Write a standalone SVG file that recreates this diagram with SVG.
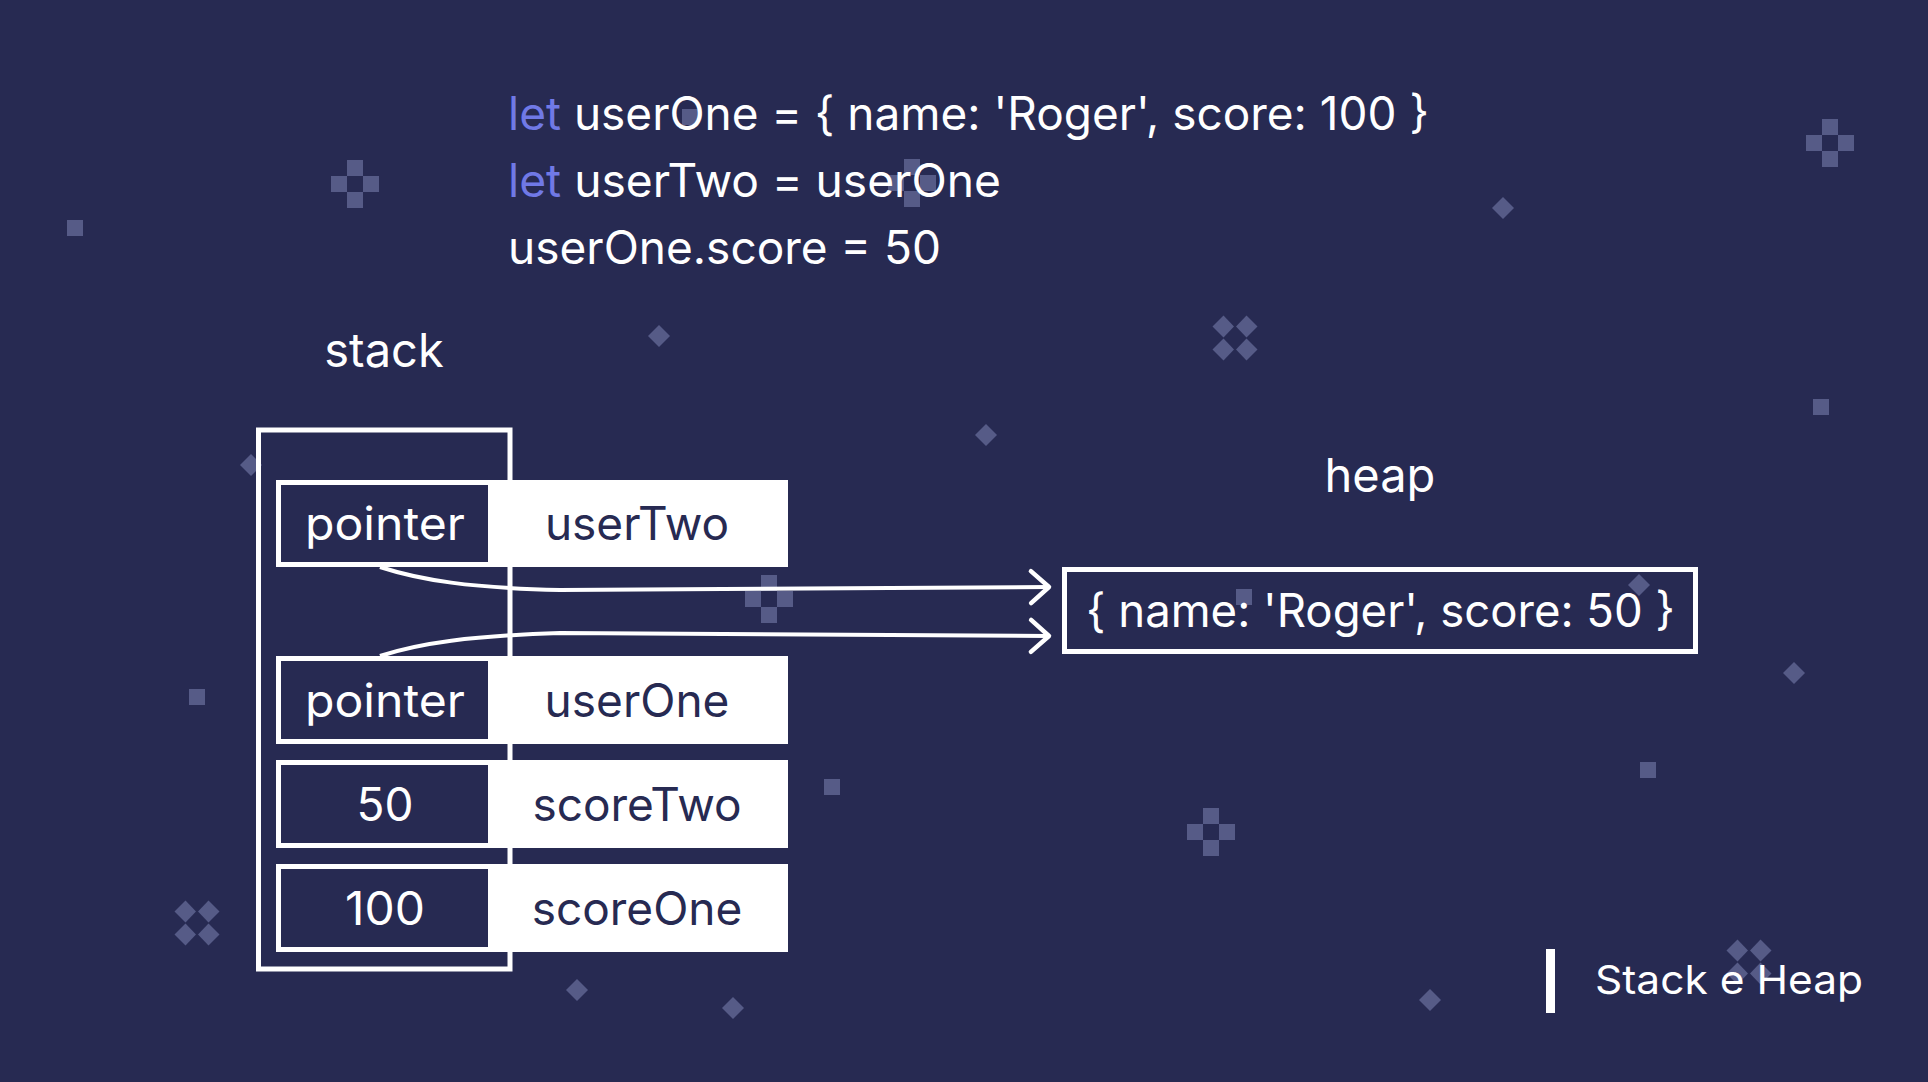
<svg xmlns="http://www.w3.org/2000/svg" xmlns:xlink="http://www.w3.org/1999/xlink" width="1928" height="1082" viewBox="0 0 1928 1082">
<style>
  .t { font-family: Inter, "Liberation Sans", sans-serif; fill: #ffffff; }
  .code { font-size: 46px; }
  .kw { fill: #7079e6; }
  .cell { font-size: 46px; text-anchor: middle; }
  .cellLight { fill: #272a52; }
  .lbl { font-size: 47px; text-anchor: middle; }
  .deco { fill: #565b87; }
  .box { fill: none; stroke: #ffffff; stroke-width: 5; }
  .conn { fill: none; stroke: #ffffff; stroke-width: 4; }
</style>
<defs>
  <g id="sq"><rect x="-8" y="-8" width="16" height="16"/></g>
  <g id="plus"><rect x="-8" y="-24" width="16" height="16"/><rect x="-24" y="-8" width="16" height="16"/><rect x="8" y="-8" width="16" height="16"/><rect x="-8" y="8" width="16" height="16"/></g>
  <g id="dia"><polygon points="0,-11 11,0 0,11 -11,0"/></g>
  <g id="quad"><polygon points="-11.5,-22.5 -1,-11.5 -11.5,-0.5 -22.5,-11.5"/><polygon points="11.5,-22.5 22.5,-11.5 11.5,-0.5 1,-11.5"/><polygon points="-11.5,0.5 -1,11.5 -11.5,22.5 -22.5,11.5"/><polygon points="11.5,0.5 22.5,11.5 11.5,22.5 1,11.5"/></g>
  <marker id="chev" markerUnits="userSpaceOnUse" markerWidth="30" markerHeight="40" viewBox="-24 -20 30 40" refX="0" refY="0" orient="auto">
    <path d="M -18 -16 L 0 0 L -18 16" fill="none" stroke="#ffffff" stroke-width="4.5" stroke-linecap="round" stroke-linejoin="round"/>
  </marker>
</defs>
<rect x="0" y="0" width="1928" height="1082" fill="#272a52"/>
<g id="decorations" class="deco">
  <use xlink:href="#plus" x="355" y="184"/>
  <use xlink:href="#plus" x="912" y="183"/>
  <use xlink:href="#plus" x="1830" y="143"/>
  <use xlink:href="#plus" x="769" y="599"/>
  <use xlink:href="#plus" x="1211" y="832"/>
  <use xlink:href="#sq" x="75" y="228"/>
  <use xlink:href="#sq" x="690" y="117"/>
  <use xlink:href="#sq" x="1821" y="407"/>
  <use xlink:href="#sq" x="1244" y="597"/>
  <use xlink:href="#sq" x="197" y="697"/>
  <use xlink:href="#sq" x="832" y="787"/>
  <use xlink:href="#sq" x="1648" y="770"/>
  <use xlink:href="#dia" x="1503" y="208"/>
  <use xlink:href="#dia" x="659" y="336"/>
  <use xlink:href="#dia" x="986" y="435"/>
  <use xlink:href="#dia" x="251" y="465"/>
  <use xlink:href="#dia" x="1639" y="585"/>
  <use xlink:href="#dia" x="1794" y="673"/>
  <use xlink:href="#dia" x="577" y="990"/>
  <use xlink:href="#dia" x="733" y="1008"/>
  <use xlink:href="#dia" x="1430" y="1000"/>
  <use xlink:href="#quad" x="1235" y="338"/>
  <use xlink:href="#quad" x="197" y="923"/>
  <use xlink:href="#quad" x="1749" y="962"/>
</g>
<g id="code" class="t code">
  <text x="508" y="130" textLength="921" lengthAdjust="spacingAndGlyphs"><tspan class="kw">let</tspan> userOne = { name: 'Roger', score: 100 }</text>
  <text x="508" y="197" textLength="493" lengthAdjust="spacingAndGlyphs"><tspan class="kw">let</tspan> userTwo = userOne</text>
  <text x="508" y="264" textLength="433" lengthAdjust="spacingAndGlyphs">userOne.score = 50</text>
</g>
<g id="stack-label"><text class="t lbl" x="384" y="367">stack</text></g>
<g id="heap-label"><text class="t lbl" x="1380" y="492">heap</text></g>
<g id="stack">
  <rect class="box" x="258.5" y="430" width="251.5" height="539"/>
</g>
<g id="row-userTwo">
  <rect x="276" y="480" width="512" height="87" fill="#ffffff"/>
  <rect x="281" y="485" width="207" height="77" fill="#272a52"/>
  <text class="t cell" x="385" y="540" textLength="160" lengthAdjust="spacingAndGlyphs">pointer</text>
  <text class="t cell cellLight" x="637" y="540">userTwo</text>
</g>
<g id="row-userOne">
  <rect x="276" y="656" width="512" height="88" fill="#ffffff"/>
  <rect x="281" y="661" width="207" height="78" fill="#272a52"/>
  <text class="t cell" x="385" y="717" textLength="160" lengthAdjust="spacingAndGlyphs">pointer</text>
  <text class="t cell cellLight" x="637" y="717">userOne</text>
</g>
<g id="row-scoreTwo">
  <rect x="276" y="760" width="512" height="88" fill="#ffffff"/>
  <rect x="281" y="765" width="207" height="78" fill="#272a52"/>
  <text class="t cell" x="385" y="821">50</text>
  <text class="t cell cellLight" x="637" y="821">scoreTwo</text>
</g>
<g id="row-scoreOne">
  <rect x="276" y="864" width="512" height="88" fill="#ffffff"/>
  <rect x="281" y="869" width="207" height="78" fill="#272a52"/>
  <text class="t cell" x="385" y="925" textLength="80" lengthAdjust="spacingAndGlyphs">100</text>
  <text class="t cell cellLight" x="637" y="925">scoreOne</text>
</g>
<g id="heap-object">
  <rect class="box" x="1064.5" y="569.5" width="631" height="82"/>
  <text class="t" x="1086" y="627" font-size="46" textLength="589" lengthAdjust="spacingAndGlyphs">{ name: 'Roger', score: 50 }</text>
</g>
<g id="connectors">
  <path class="conn" d="M 380 567 C 420 580, 470 588, 560 590 L 1049 587" marker-end="url(#chev)"/>
  <path class="conn" d="M 380 656 C 420 643, 470 636, 560 633 L 1049 636" marker-end="url(#chev)"/>
</g>
<g id="footer">
  <rect x="1546" y="949" width="9" height="64" fill="#ffffff"/>
  <text class="t" x="1595" y="994" font-size="40" textLength="268" lengthAdjust="spacingAndGlyphs">Stack e Heap</text>
</g>
</svg>
